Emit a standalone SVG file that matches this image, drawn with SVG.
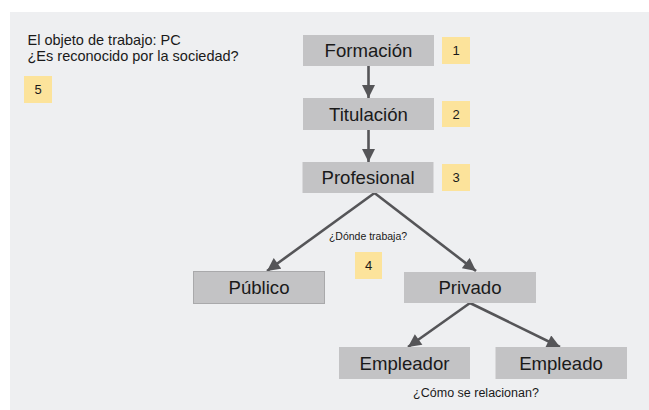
<svg xmlns="http://www.w3.org/2000/svg" width="649" height="410" viewBox="0 0 649 410">
<style>
.node{fill:#c3c3c5}
.lbl{font-family:"Liberation Sans",Arial,sans-serif;font-size:18.6px;fill:#1a1a1a;text-anchor:middle}
.num{fill:#fce39b}
.numt{font-family:"Liberation Sans",Arial,sans-serif;font-size:13px;fill:#1a1a1a;text-anchor:middle}
.txt{font-family:"Liberation Sans",Arial,sans-serif;fill:#1a1a1a}
.con{stroke:#555558;stroke-width:2.6;fill:none;marker-end:url(#ah)}
</style>
<defs>
<marker id="ah" viewBox="0 0 10 10" refX="10" refY="5" markerWidth="5.4" markerHeight="5" markerUnits="strokeWidth" orient="auto">
<path d="M0,0 L10,5 L0,10 z" fill="#555558"/>
</marker>
</defs>
<rect x="0" y="0" width="649" height="410" fill="#ffffff"/>
<rect x="10" y="12" width="639" height="398" fill="#eeeff1"/>
<g id="connectors">
<line class="con" x1="368.5" y1="66" x2="368.5" y2="98"/>
<line class="con" x1="368.5" y1="130" x2="368.5" y2="162"/>
<line class="con" x1="374.5" y1="193" x2="267" y2="271"/>
<line class="con" x1="374.5" y1="193" x2="476" y2="271"/>
<line class="con" x1="470" y1="303" x2="408" y2="347"/>
<line class="con" x1="470" y1="303" x2="560" y2="347"/>
</g>
<g id="intro">
<text class="txt" x="27.5" y="45" font-size="14.5">El objeto de trabajo: PC</text>
<text class="txt" x="27.5" y="61" font-size="14.5">¿Es reconocido por la sociedad?</text>
</g>
<g id="badge5"><rect class="num" x="24" y="76" width="28" height="27"/><text class="numt" x="38" y="94">5</text></g>
<g id="formacion"><rect class="node" x="303" y="35" width="131" height="31"/><text class="lbl" x="368.5" y="57">Formación</text></g>
<g id="badge1"><rect class="num" x="442" y="37" width="28" height="27"/><text class="numt" x="456" y="55">1</text></g>
<g id="titulacion"><rect class="node" x="303" y="98" width="131" height="32"/><text class="lbl" x="368.5" y="120.5">Titulación</text></g>
<g id="badge2"><rect class="num" x="442" y="101" width="28" height="26"/><text class="numt" x="456" y="118.5">2</text></g>
<g id="profesional"><rect class="node" x="302.5" y="162" width="131" height="31"/><text class="lbl" x="368" y="184">Profesional</text></g>
<g id="badge3"><rect class="num" x="442" y="164" width="28" height="27"/><text class="numt" x="456" y="182">3</text></g>
<g id="donde"><text class="txt" x="368" y="240" font-size="10.5" text-anchor="middle">¿Dónde trabaja?</text></g>
<g id="badge4"><rect class="num" x="355" y="252" width="27" height="27"/><text class="numt" x="368.5" y="270">4</text></g>
<g id="publico"><rect class="node" x="193.5" y="271.5" width="131" height="32" stroke="#a9a9ab" stroke-width="1"/><text class="lbl" x="259" y="294">Público</text></g>
<g id="privado"><rect class="node" x="404" y="272" width="132" height="31"/><text class="lbl" x="470" y="294">Privado</text></g>
<g id="empleador"><rect class="node" x="339" y="347" width="131" height="32"/><text class="lbl" x="404.5" y="369.5">Empleador</text></g>
<g id="empleado"><rect class="node" x="495.5" y="347" width="131.5" height="32"/><text class="lbl" x="561" y="369.5">Empleado</text></g>
<g id="como"><text class="txt" x="476" y="397" font-size="12.5" text-anchor="middle">¿Cómo se relacionan?</text></g>
</svg>
